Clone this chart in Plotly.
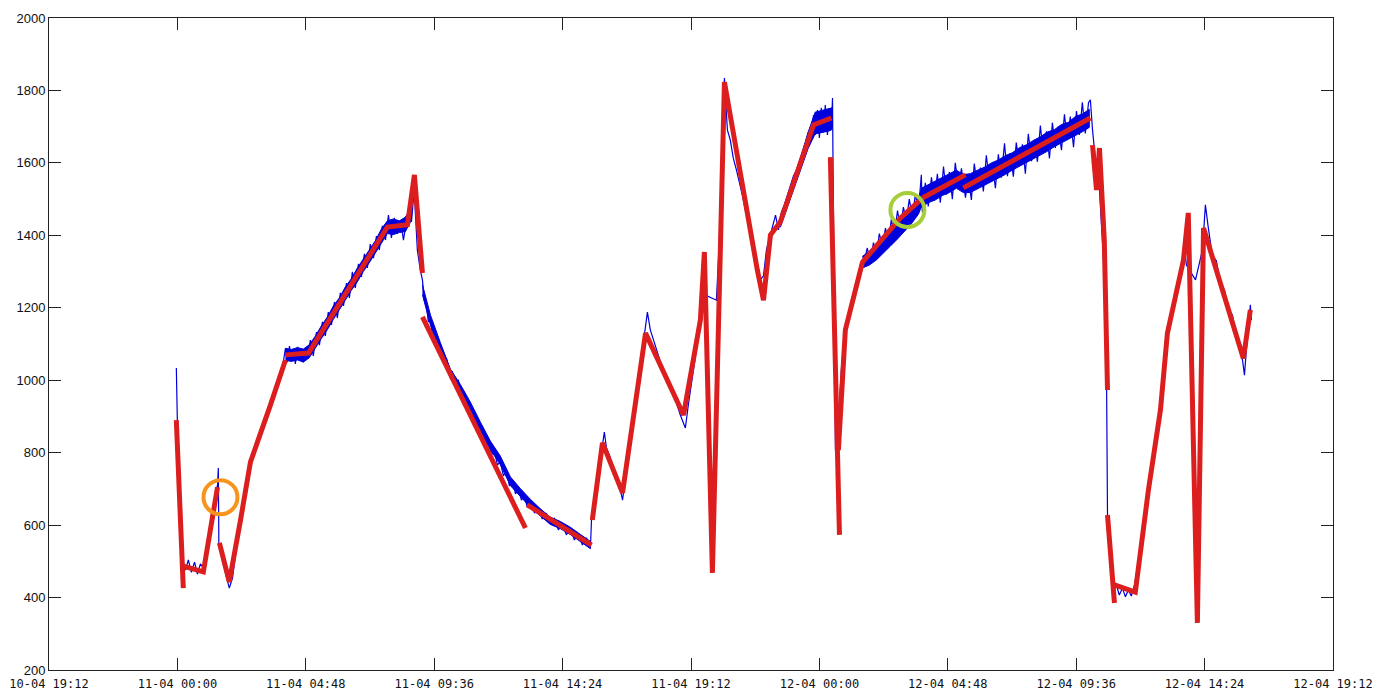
import pandas as pd
import plotly.graph_objects as go

# ---------------- data (hours after 11-04 00:00, sensor value) ----------------
base_time = pd.Timestamp("2013-04-11 00:00")

blue_hours = [
    -0.04, 0.00, 0.07, 0.19, 0.30, 0.41, 0.52, 0.64, 0.75, 0.86, 0.97, 1.12, 1.27, 1.42, 1.50, 1.53, 1.55,
    1.68, 1.83, 1.94, 2.06, 2.21, 2.36, 2.54, 2.73, 2.92, 3.10, 3.29, 3.48, 3.66, 3.85, 3.96,
    4.04, 4.11, 4.19, 4.26, 4.34, 4.41, 4.49, 4.56, 4.64, 4.71, 4.79, 4.86,
    4.97, 5.08, 5.20, 5.31, 5.42, 5.53, 5.64, 5.76, 5.87, 5.98, 6.09, 6.21, 6.32, 6.43, 6.54, 6.65,
    6.77, 6.88, 6.99, 7.10, 7.21, 7.33, 7.44, 7.55, 7.66, 7.78, 7.89,
    8.00, 8.11, 8.22, 8.34, 8.45, 8.56, 8.67, 8.75, 8.82, 8.86, 8.90, 8.97, 9.08,
    9.16, 9.23, 9.31, 9.38, 9.46, 9.53, 9.61, 9.72, 9.83, 9.94, 10.06, 10.17, 10.28, 10.39, 10.50,
    10.62, 10.73, 10.84, 10.95, 11.07, 11.18, 11.29, 11.40, 11.51, 11.63, 11.74, 11.85, 11.96, 12.07,
    12.19, 12.30, 12.41, 12.52, 12.64, 12.75, 12.86, 12.97, 13.08, 13.20, 13.35, 13.50, 13.64, 13.79,
    13.94, 14.09, 14.24, 14.39, 14.54, 14.69, 14.84, 14.99, 15.14, 15.29, 15.44, 15.48,
    15.63, 15.78, 15.89, 15.96, 16.04, 16.15, 16.26, 16.37, 16.49, 16.64, 16.75, 16.93, 17.12, 17.31,
    17.46, 17.57, 17.68, 17.87, 18.06, 18.24, 18.43, 18.62, 18.80, 18.99, 19.10, 19.25, 19.40, 19.55,
    19.66, 19.74, 20.15, 20.26, 20.37, 20.45,
    20.56, 20.67, 20.78, 20.90, 21.01, 21.12, 21.23, 21.35, 21.46, 21.57, 21.68, 21.79, 21.91, 22.02,
    22.13, 22.24, 22.36, 22.47, 22.58, 22.69, 22.80, 22.92, 23.03, 23.14, 23.25, 23.36, 23.48, 23.59,
    23.70, 23.78, 23.85, 23.93, 24.00, 24.07, 24.15, 24.22, 24.30, 24.37, 24.45, 24.49, 24.52, 24.60,
    24.71, 24.82, 24.93, 25.05, 25.20, 25.35, 25.50, 25.64,
    25.79, 25.91, 26.02, 26.13, 26.24, 26.36, 26.47, 26.58, 26.69, 26.80, 26.92, 27.03, 27.14, 27.25,
    27.36, 27.48, 27.59, 27.70, 27.81,
    27.85, 27.96, 28.07, 28.19, 28.30, 28.41, 28.52, 28.64, 28.75, 28.86, 28.97, 29.08, 29.20, 29.31,
    29.46, 29.57, 29.68, 29.79, 29.91, 30.02, 30.13, 30.24, 30.36, 30.47, 30.58, 30.69, 30.80, 30.92,
    31.03, 31.14, 31.25, 31.36, 31.48, 31.59, 31.70, 31.81, 31.93, 32.04, 32.15, 32.26, 32.37, 32.49,
    32.60, 32.71, 32.82, 32.93, 33.05, 33.16, 33.27, 33.38, 33.50, 33.61, 33.72, 33.83, 33.94, 34.06,
    34.13, 34.21, 34.32, 34.47, 34.62, 34.73, 34.77, 34.88, 34.99, 35.10, 35.21, 35.33, 35.44, 35.55,
    35.66, 35.78, 35.93, 36.11, 36.30, 36.49, 36.67, 36.86, 37.05, 37.23, 37.42, 37.57, 37.64, 37.72,
    38.06, 38.32, 38.43, 38.54, 38.69, 38.84, 38.99, 39.14, 39.29, 39.44, 39.59, 39.74, 39.89, 39.96,
    40.04, 40.11, 40.15,
]

blue_values = [
    1034, 863, 614, 504, 476, 504, 470, 498, 465, 493, 482, 545, 628, 683, 711, 758, 545,
    504, 462, 426, 454, 537, 628, 697, 774, 813, 863, 896, 940, 967, 1014, 1050,
    1089, 1050, 1094, 1056, 1083, 1045, 1092, 1061, 1078, 1050, 1089, 1061,
    1111, 1067, 1133, 1097, 1161, 1122, 1188, 1153, 1216, 1172, 1241, 1205, 1268, 1227, 1299, 1255,
    1321, 1285, 1349, 1310, 1376, 1337, 1398, 1360, 1426, 1387, 1456,
    1393, 1448, 1404, 1442, 1387, 1437, 1464, 1437, 1498, 1525, 1456, 1360, 1304,
    1277, 1221, 1208, 1161, 1172, 1125, 1139, 1089, 1097, 1050, 1061, 1017, 1023, 987, 1001,
    956, 967, 918, 934, 890, 901, 857, 874, 824, 835, 794, 807, 766, 774,
    736, 752, 708, 725, 686, 702, 669, 680, 650, 664, 633, 647, 617, 633,
    603, 620, 587, 603, 573, 592, 559, 576, 545, 565, 537, 614,
    697, 780, 821, 857, 813, 794, 766, 747, 725, 669, 730, 835, 945, 1056,
    1139, 1188, 1139, 1097, 1050, 1006, 973, 945, 904, 868, 932, 1014, 1083, 1152,
    1221, 1235, 1221, 1387, 1691, 1834,
    1691, 1663, 1613, 1580, 1547, 1511, 1470, 1437, 1393, 1346, 1310, 1277, 1288, 1360,
    1393, 1426, 1456, 1415, 1464, 1484, 1509, 1536, 1564, 1580, 1608, 1630, 1658, 1685,
    1663, 1732, 1677, 1746, 1669, 1752, 1685, 1760, 1677, 1746, 1696, 1779, 1498, 807,
    890, 1028, 1125, 1161, 1199, 1244, 1282, 1318,
    1365, 1325, 1380, 1345, 1405, 1368, 1420, 1380, 1445, 1400, 1468, 1420, 1478, 1440,
    1500, 1450, 1515, 1465, 1567,
    1463, 1545, 1480, 1560, 1496, 1570, 1490, 1590, 1512, 1575, 1500, 1600, 1530, 1585,
    1504, 1564, 1498, 1598, 1533, 1587, 1521, 1621, 1546, 1595, 1530, 1624, 1559, 1654,
    1563, 1627, 1562, 1656, 1591, 1651, 1570, 1680, 1605, 1664, 1603, 1703, 1627, 1687,
    1612, 1711, 1641, 1700, 1635, 1734, 1664, 1728, 1643, 1743, 1677, 1767, 1681, 1766,
    1774, 1691, 1608, 1525, 1332, 1056, 628, 504, 421, 435, 407, 426, 402, 421,
    404, 435, 504, 587, 697, 794, 890, 1028, 1139, 1208, 1263, 1326, 1373, 1318,
    1277, 1360, 1484, 1420, 1345, 1330, 1268, 1250, 1195, 1180, 1120, 1100, 1014, 1083,
    1139, 1208, 1166,
]

# noise envelopes of the blue signal (upper / lower extent) in the noisiest stretches
band_a_hours = [4.04, 4.26, 4.49, 4.71, 4.93, 5.16, 5.38, 5.61, 5.83, 6.06, 6.28, 6.50, 6.73, 6.95,
                7.18, 7.40, 7.63, 7.85, 8.07, 8.30, 8.52, 8.75]
band_a_upper = [1088, 1085, 1090, 1086, 1098, 1122, 1150, 1175, 1205, 1228, 1258, 1280, 1310, 1335,
                1362, 1385, 1418, 1440, 1445, 1440, 1450, 1478]
band_a_lower = [1055, 1052, 1056, 1050, 1062, 1088, 1115, 1140, 1168, 1195, 1220, 1248, 1272, 1300,
                1325, 1352, 1378, 1405, 1402, 1408, 1410, 1442]

band_b_hours = [9.16, 9.46, 9.83, 10.21, 10.58, 10.95, 11.33, 11.70, 12.07, 12.45, 12.82, 13.20,
                13.57, 13.94, 14.32, 14.69, 15.07, 15.44]
band_b_upper = [1264, 1180, 1104, 1030, 988, 940, 884, 832, 791, 733, 701, 671, 645, 622, 610, 594,
                574, 555]
band_b_lower = [1236, 1152, 1078, 1004, 962, 912, 858, 808, 767, 709, 679, 649, 625, 602, 590, 574,
                554, 535]

band_c_hours = [22.54, 22.80, 23.06, 23.32, 23.58, 23.84, 24.10, 24.36, 24.47]
band_c_upper = [1452, 1505, 1562, 1618, 1685, 1740, 1745, 1750, 1752]
band_c_lower = [1422, 1476, 1530, 1585, 1640, 1680, 1684, 1688, 1692]

band_d_hours = [25.61, 25.87, 26.13, 26.39, 26.65, 26.92, 27.18, 27.44, 27.70, 27.81, 28.07, 28.34,
                28.60, 28.86, 29.12, 29.38, 29.64, 29.91, 30.17, 30.43, 30.69, 30.95, 31.21, 31.48,
                31.74, 32.00, 32.26, 32.52, 32.79, 33.05, 33.31, 33.57, 33.83, 34.09]
band_d_upper = [1342, 1356, 1375, 1392, 1412, 1435, 1455, 1480, 1502, 1530, 1540, 1552, 1560, 1572,
                1580, 1568, 1570, 1580, 1588, 1600, 1608, 1620, 1628, 1642, 1650, 1662, 1672, 1685,
                1692, 1706, 1712, 1728, 1735, 1748]
band_d_lower = [1310, 1318, 1332, 1350, 1370, 1390, 1410, 1432, 1458, 1478, 1490, 1498, 1510, 1518,
                1530, 1518, 1518, 1528, 1538, 1548, 1558, 1568, 1580, 1590, 1602, 1612, 1622, 1632,
                1645, 1655, 1665, 1676, 1686, 1698]

# piecewise-linear fit segments (None separates segments)
red_hours = [
    -0.04, 0.22, None,
    0.22, 0.97, 1.50, None,
    1.57, 1.94, 2.36, 2.73, 3.48, 4.04, None,
    4.04, 4.90, 7.85, 8.60, 8.86, 9.16, None,
    9.16, 13.01, None,
    13.08, 15.48, None,
    15.51, 15.89, 16.64, 17.50, 18.92, 19.55, 19.70, 20.00, 20.26, 20.45, 21.68, 21.91, 22.17, 22.54,
    23.78, 24.45, None,
    24.41, 24.75, None,
    24.71, 24.97, 25.61, 27.03, 27.78, None,
    27.85, 29.46, None,
    29.38, 34.13, None,
    34.21, 34.36, 34.47, 34.65, 34.77, None,
    34.77, 35.03, None,
    35.03, 35.81, 36.30, 36.75, 37.01, 37.61, 37.79, 38.13, 38.36, 39.85, 40.11,
]
red_values = [
    890, 426, None,
    487, 471, 705, None,
    551, 443, 614, 774, 932, 1056, None,
    1070, 1075, 1423, 1429, 1567, 1296, None,
    1175, 592, None,
    656, 545, None,
    614, 827, 689, 1130, 904, 1166, 1354, 468, 1249, 1823, 1304, 1221, 1401, 1437,
    1705, 1724, None,
    1616, 573, None,
    807, 1139, 1326, 1448, 1498, None,
    1503, 1567, None,
    1531, 1724, None,
    1649, 1525, 1641, 1387, 973, None,
    628, 385, None,
    435, 415, 697, 918, 1130, 1332, 1462, 330, 1420, 1060, 1194,
]

# highlighted points (circles)
orange_mark = (1.61, 677)
green_mark = (27.29, 1470)

tick_hours = [-4.8, 0.0, 4.8, 9.6, 14.4, 19.2, 24.0, 28.8, 33.6, 38.4, 43.2]
tick_labels = ["10-04 19:12", "11-04 00:00", "11-04 04:48", "11-04 09:36", "11-04 14:24",
               "11-04 19:12", "12-04 00:00", "12-04 04:48", "12-04 09:36", "12-04 14:24",
               "12-04 19:12"]
y_ticks = [200, 400, 600, 800, 1000, 1200, 1400, 1600, 1800, 2000]


def to_time(hours):
    return [None if h is None else base_time + pd.Timedelta(hours=h) for h in hours]


BLUE = "#0000dc"
RED = "#dc1e1e"

fig = go.Figure()
for hrs, up, lo in [(band_a_hours, band_a_upper, band_a_lower),
                    (band_b_hours, band_b_upper, band_b_lower),
                    (band_c_hours, band_c_upper, band_c_lower),
                    (band_d_hours, band_d_upper, band_d_lower)]:
    fig.add_trace(go.Scatter(
        x=to_time(hrs) + to_time(hrs[::-1]), y=up + lo[::-1], mode="lines",
        fill="toself", fillcolor=BLUE, line=dict(color=BLUE, width=1),
        showlegend=False, hoverinfo="skip"))

fig.add_trace(go.Scatter(
    x=to_time(blue_hours), y=blue_values, mode="lines",
    line=dict(color=BLUE, width=1.2), showlegend=False, hoverinfo="skip"))
fig.add_trace(go.Scatter(
    x=to_time(red_hours), y=red_values, mode="lines",
    line=dict(color=RED, width=5), connectgaps=False, showlegend=False))

for (h, v), col in [(orange_mark, "#f7941d"), (green_mark, "#a6ce39")]:
    t = base_time + pd.Timedelta(hours=h)
    fig.add_shape(type="circle", xref="x", yref="y", xsizemode="pixel", ysizemode="pixel",
                  xanchor=t, yanchor=v, x0=-17, x1=17, y0=-17, y1=17,
                  line=dict(color=col, width=4))

tick_times = to_time(tick_hours)
fig.update_xaxes(
    type="date", range=[tick_times[0], tick_times[-1]], automargin=False,
    tickmode="array", tickvals=tick_times, ticktext=tick_labels,
    ticks="inside", ticklen=12, tickwidth=1, tickcolor="#222", ticklabelstandoff=3,
    showline=True, linecolor="#222", linewidth=1, mirror="ticks",
    showgrid=False, zeroline=False,
    tickfont=dict(family="DejaVu Sans Mono", size=12, color="#111"))
fig.update_yaxes(
    range=[200, 2000], tickmode="array", tickvals=y_ticks, automargin=False,
    ticks="inside", ticklen=12, tickwidth=1, tickcolor="#222",
    showline=True, linecolor="#222", linewidth=1, mirror="ticks",
    showgrid=False, zeroline=False,
    tickfont=dict(family="Liberation Sans", size=13, color="#111"))
# the page body adds an 8 px offset, so the figure is sized to fit the window
fig.update_layout(
    width=1379, height=683,
    margin=dict(l=41, r=54, t=10, b=21),
    paper_bgcolor="white", plot_bgcolor="white",
    showlegend=False)

fig.write_html("out.html")
